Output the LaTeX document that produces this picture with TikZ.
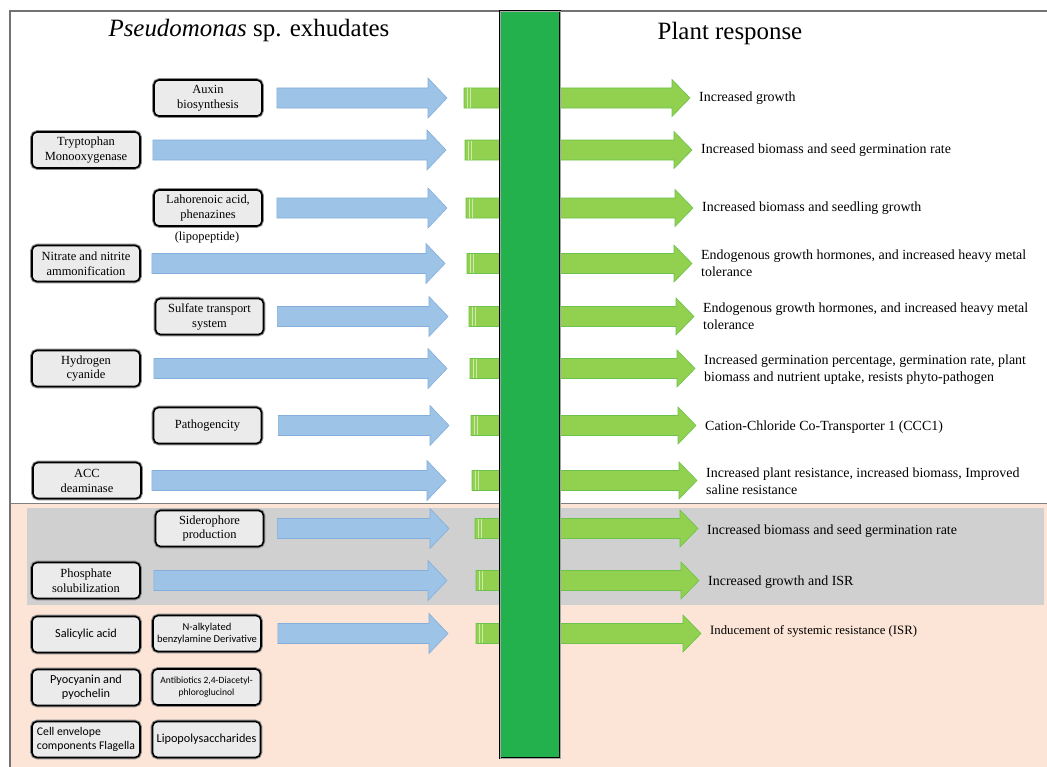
\documentclass[tikz,border=0pt]{standalone}
\usepackage{fontspec}
\setmainfont{Liberation Serif}
\newfontfamily\carlito{Carlito}
\usetikzlibrary{calc}
\definecolor{boxfill}{HTML}{EBEBEB}
\definecolor{bluefill}{HTML}{9DC3E6}
\definecolor{blueline}{HTML}{84AEDB}
\definecolor{greenfill}{HTML}{92D050}
\definecolor{greenline}{HTML}{6CC24A}
\definecolor{bargreen}{HTML}{22B14C}
\definecolor{salmon}{HTML}{FCE4D6}
\definecolor{graybg}{HTML}{D0D0D0}
\newcommand\blockarrow[5]{%
  \draw[#3] let \p1=(#1), \p2=(#2) in
    (\x1,\y1+10bp) -- (\x2-#5,\y1+10bp) -- (\x2-#5,\y1+#4) -- (\x2,\y1)
    -- (\x2-#5,\y1-#4) -- (\x2-#5,\y1-10bp) -- (\x1,\y1-10bp) -- cycle;}
\newcommand\stubstripes[1]{%
  \draw[white!55!greenfill, line width=0.8bp] let \p1=(#1) in
    (\x1+3bp,\y1-9.5bp) -- (\x1+3bp,\y1+9.5bp)
    (\x1+6.5bp,\y1-9.5bp) -- (\x1+6.5bp,\y1+9.5bp);}
\tikzset{
  box/.style={rectangle, rounded corners=5bp, fill=boxfill, draw=black,
    line width=1.6bp, minimum width=108bp, minimum height=36bp, inner sep=1bp,
    align=center, font=\fontsize{12.5}{15}\selectfont,
    preaction={draw=black!45, line width=3.6bp}},
  sbox/.style={font=\carlito\fontsize{12.3}{14.5}\selectfont},
  resp/.style={anchor=west, inner sep=0pt, align=left, font=\fontsize{14}{17}\selectfont},
  bluearr/.style={fill=bluefill, draw=blueline, line width=0.6bp},
  greenarr/.style={fill=greenfill, draw=greenline, line width=0.6bp},
}
\begin{document}
\begin{tikzpicture}[x=1bp,y=-1bp]
\fill[white] (0,0) rectangle (1047,767);
\useasboundingbox (0,0) rectangle (1047,767);
% backgrounds
\fill[salmon] (10,503) rectangle (1047,767);
\fill[graybg] (27,508) rectangle (1044,605);
\draw[black!50, line width=1bp] (10,503) -- (1047,503);
\draw[black!55, line width=1.4bp] (10,767) -- (10,11) -- (1047,11);
% headers
\node[anchor=base, inner sep=0pt, font=\fontsize{25}{30}\selectfont] (hleft) at (249,37) {\textit{Pseudomonas} sp. exhudates};
\node[anchor=base, inner sep=0pt, font=\fontsize{25}{30}\selectfont] (hright) at (730,40) {Plant response};
% boxes
\node[box] (auxin) at (208,98) {Auxin\\biosynthesis};
\node[box] (trp) at (86,150) {Tryptophan\\Monooxygenase};
\node[box] (lah) at (208,208) {Lahorenoic acid,\\phenazines};
\node[inner sep=0pt, font=\fontsize{12.5}{15}\selectfont] (lip) at (207,238) {(lipopeptide)};
\node[box] (nit) at (86,263.5) {Nitrate and nitrite\\ammonification};
\node[box] (sul) at (209.5,316.5) {Sulfate transport\\system};
\node[box] (hcn) at (86,368.5) {Hydrogen\\cyanide};
\node[box] (pat) at (207.5,425.5) {Pathogencity};
\node[box] (acc) at (87,480.5) {ACC\\deaminase};
\node[box] (sid) at (209.5,528.5) {Siderophore\\production};
\node[box] (pho) at (86,580.5) {Phosphate\\solubilization};
\node[box,sbox] (sal) at (86,634.5) {Salicylic acid};
\node[box,sbox,font=\carlito\fontsize{10.6}{12.5}\selectfont] (nalk) at (207,633.5) {N-alkylated\\benzylamine Derivative};
\node[box,sbox] (pyo) at (86,687.5) {\raisebox{4bp}{\begin{tabular}{@{}c@{}}Pyocyanin and\\pyochelin\end{tabular}}};
\node[box,sbox,font=\carlito\fontsize{9.6}{12}\selectfont] (anti) at (206.5,687) {Antibiotics 2,4-Diacetyl-\\phloroglucinol};
\node[box,sbox,align=left,font=\carlito\fontsize{11.8}{14}\selectfont] (cell) at (86,739.5) {Cell envelope\\components Flagella};
\node[box,sbox] (lps) at (206.5,739.5) {Lipopolysaccharides};
% responses
\node[resp] (r1) at (699,98) {Increased growth};
\node[resp] (r2) at (701,150) {Increased biomass and seed germination rate};
\node[resp] (r3) at (702,208) {Increased biomass and seedling growth};
\node[resp] (r4) at (701,263.5) {Endogenous growth hormones, and increased heavy metal\\tolerance};
\node[resp] (r5) at (703,316.5) {Endogenous growth hormones, and increased heavy metal\\tolerance};
\node[resp] (r6) at (704,370) {Increased germination percentage, germination rate, plant\\biomass and nutrient uptake, resists phyto-pathogen};
\node[resp] (r7) at (705,427) {Cation-Chloride Co-Transporter 1 (CCC1)};
\node[resp] (r8) at (706,481) {Increased plant resistance, increased biomass, Improved\\saline resistance};
\node[resp] (r9) at (707,531) {Increased biomass and seed germination rate};
\node[resp] (r10) at (708,582) {Increased growth and ISR};
\node[resp,font=\fontsize{12.8}{15}\selectfont] (r11) at (710,631) {Inducement of systemic resistance (ISR)};
% blue arrow tips
\coordinate (b1) at (447,98);
\coordinate (b2) at (446,150);
\coordinate (b3) at (447,208);
\coordinate (b4) at (445,263.5);
\coordinate (b5) at (448,316.5);
\coordinate (b6) at (447,368.5);
\coordinate (b7) at (449,425.5);
\coordinate (b8) at (446,480.5);
\coordinate (b9) at (449,528.5);
\coordinate (b10) at (447,580.5);
\coordinate (b11) at (448,633.5);
\blockarrow{[xshift=14bp]auxin.east}{b1}{bluearr}{20bp}{19bp}
\blockarrow{[xshift=12bp]trp.east}{b2}{bluearr}{20bp}{19bp}
\blockarrow{[xshift=14bp]lah.east}{b3}{bluearr}{20bp}{19bp}
\blockarrow{[xshift=11bp]nit.east}{b4}{bluearr}{20bp}{19bp}
\blockarrow{[xshift=13bp]sul.east}{b5}{bluearr}{20bp}{19bp}
\blockarrow{[xshift=13bp]hcn.east}{b6}{bluearr}{20bp}{19bp}
\blockarrow{[xshift=16bp]pat.east}{b7}{bluearr}{20bp}{19bp}
\blockarrow{[xshift=10bp]acc.east}{b8}{bluearr}{20bp}{19bp}
\blockarrow{[xshift=13bp]sid.east}{b9}{bluearr}{20bp}{19bp}
\blockarrow{[xshift=13bp]pho.east}{b10}{bluearr}{20bp}{19bp}
\blockarrow{[xshift=16bp]nalk.east}{b11}{bluearr}{20bp}{19bp}
% green arrow starts
\coordinate (g1) at (464,98);
\coordinate (g2) at (465,150);
\coordinate (g3) at (466,208);
\coordinate (g4) at (467,263.5);
\coordinate (g5) at (469,316.5);
\coordinate (g6) at (470,368.5);
\coordinate (g7) at (471,425.5);
\coordinate (g8) at (472,480.5);
\coordinate (g9) at (475,528.5);
\coordinate (g10) at (476,580.5);
\coordinate (g11) at (476,633.5);
\foreach \i in {1,...,11}{
  \blockarrow{g\i}{[xshift=-9bp]r\i.west}{greenarr}{18.5bp}{18bp}
  \stubstripes{g\i}
}
% central bar
\draw[fill=bargreen, draw=black, double=black!35, double distance=0.8bp, line width=0.8bp] (500,11) rectangle (560,758);
\end{tikzpicture}
\end{document}
